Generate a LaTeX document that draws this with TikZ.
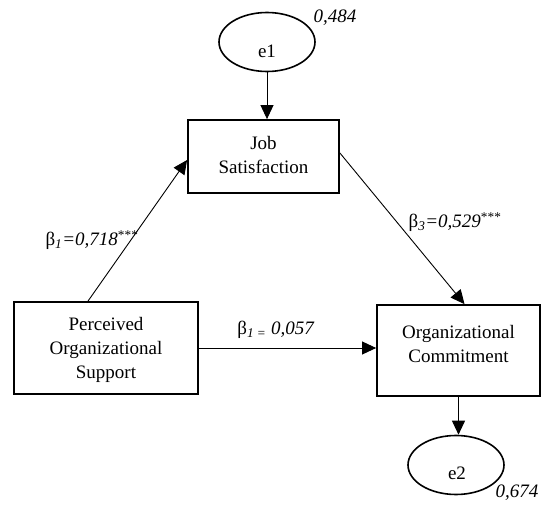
\documentclass[tikz,border=0pt]{standalone}
\usepackage{fontspec}
\setmainfont{Liberation Serif}
\usetikzlibrary{shapes.geometric,arrows.meta}
\begin{document}
\begin{tikzpicture}[x=1pt,y=-1pt,
  font=\fontsize{19}{24}\selectfont,
  box/.style={draw, line width=1.8pt, inner sep=0pt},
  err/.style={draw, ellipse, line width=1.6pt, inner sep=0pt, minimum width=96pt, minimum height=59pt},
  txt/.style={inner sep=0pt, align=center},
  conn/.style={line width=0.9pt, -{Triangle[length=14pt,width=13pt]}},
  coef/.style={inner sep=0pt, font=\fontsize{19}{23}\selectfont}]
\useasboundingbox (0,0) rectangle (547,508);
% error terms
\node[err] (e1) at (267,42) {};
\node[txt] (e1t) at (267,51) {e1};
\node[coef] (r1) at (335,18) {\textit{0,484}};
\node[err] (e2) at (456,465) {};
\node[txt] (e2t) at (457,473) {e2};
\node[coef] (r2) at (517,493) {\textit{0,674}};
% boxes
\node[box, minimum width=151pt, minimum height=73pt] (js) at (263.5,156.5) {};
\node[txt] (jst) at (263.5,155) {Job\\Satisfaction};
\node[box, minimum width=184pt, minimum height=92pt] (pos) at (106,348) {};
\node[txt] (post) at (106,350) {Perceived\\Organizational\\Support};
\node[box, minimum width=163pt, minimum height=91pt] (oc) at (458.5,350.5) {};
\node[txt] (oct) at (458.5,344) {Organizational\\Commitment};
% connectors
\draw[conn] (e1.south) -- (e1.south |- js.north);
\draw[conn] (oc.south) -- (oc.south |- e2.north);
\draw[conn] ([xshift=-18pt]pos.north) -- ([yshift=-3.5pt]js.west);
\draw[conn] ([yshift=3.5pt]js.east) -- ([xshift=6pt]oc.north);
\draw[conn] (pos.east) -- (pos.east -| oc.west);
% coefficients
\node[coef] (b1) at (92,240) {β\textsubscript{\textit{1}}\textit{=0,718}\textsuperscript{***}};
\node[coef] (b3) at (455,222) {β\textsubscript{\textit{3}}\textit{=0,529}\textsuperscript{***}};
\node[coef] (b2) at (276,330) {β\textsubscript{\textit{1 =}} \textit{0,057}};
\end{tikzpicture}
\end{document}
